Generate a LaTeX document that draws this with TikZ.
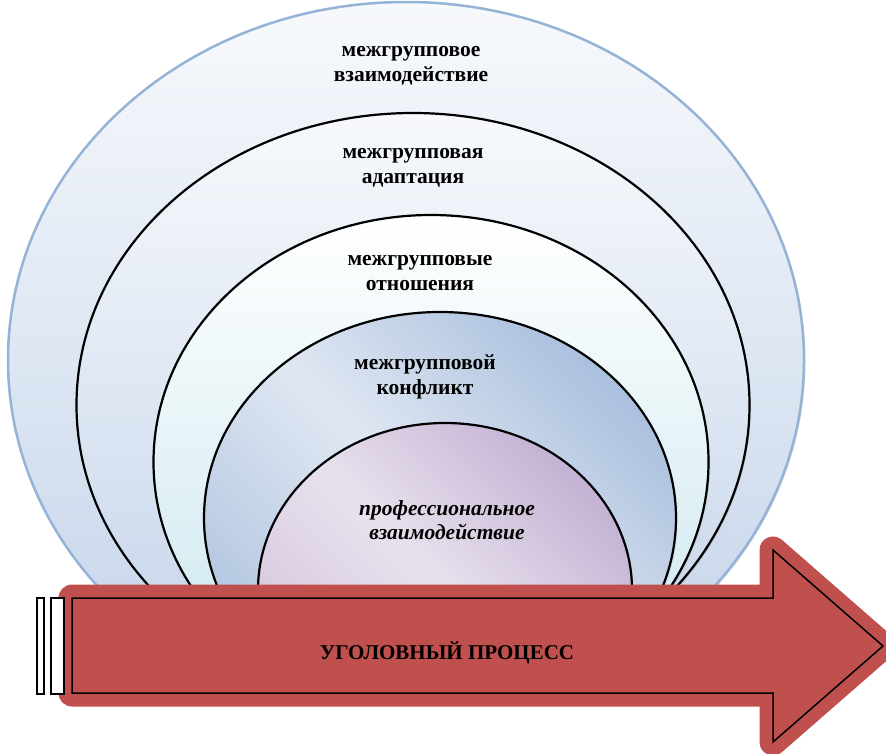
\documentclass[tikz,border=0pt]{standalone}
\usepackage{fontspec}
\setmainfont{Liberation Serif}
\usetikzlibrary{shapes.geometric,shadows}

\definecolor{ringblue}{HTML}{95B3D7}
\definecolor{arrowred}{HTML}{C0504D}
\definecolor{paletop}{RGB}{247,249,252}
\definecolor{palebot}{RGB}{195,211,233}
\definecolor{cyanbot}{RGB}{201,230,238}
\definecolor{bluedark}{RGB}{170,192,222}
\definecolor{bluelight}{RGB}{224,231,242}
\definecolor{bluelow}{RGB}{178,198,225}
\definecolor{lilacdark}{RGB}{195,178,211}
\definecolor{lilaclight}{RGB}{232,225,237}
\definecolor{lilaclow}{RGB}{211,197,221}

\begin{document}
\begin{tikzpicture}[x=1pt, y=-1pt,
    ring/.style={ellipse, draw=black, line width=2.2pt, inner sep=0pt,
      drop shadow={shadow xshift=1.5pt, shadow yshift=-1.5pt, opacity=0.25}},
    lbl/.style={align=center, font=\fontsize{21.5}{24.5}\selectfont\bfseries},
    stripe/.style={draw=black, fill=white, line width=1.5pt}]

    \useasboundingbox (0,0) rectangle (886,753);

    \begin{scope}
    \clip (0,0) rectangle (886,650);
    \node[ring, draw=ringblue, line width=2.5pt, top color=paletop, bottom color=palebot, minimum width=796pt, minimum height=716pt] (e1) at (406, 360) {};
    \node[ring, top color=paletop, bottom color=palebot, minimum width=673pt, minimum height=584pt] (e2) at (413, 405) {};
    \node[ring, top color=white, bottom color=cyanbot, minimum width=555pt, minimum height=494pt] (e3) at (431, 462) {};
    \node[ring, top color=bluedark, bottom color=bluelow, middle color=bluelight, shading angle=-45, minimum width=472pt, minimum height=412pt] (e4) at (440, 518) {};
    \node[ring, top color=lilacdark, bottom color=lilaclow, middle color=lilaclight, shading angle=-45, minimum width=374pt, minimum height=334pt] (e5) at (445, 590) {};
    \end{scope}

    \node[lbl] (a) at (411, 66) {межгрупповое\\взаимодействие};
    \node[lbl] (b) at (413, 168) {межгрупповая\\адаптация};
    \node[lbl] (c) at (420, 273) {межгрупповые\\отношения};
    \node[lbl] (d) at (425, 377) {межгрупповой\\конфликт};
    \node[lbl, font=\fontsize{21.5}{24.5}\selectfont\bfseries\itshape] (e) at (447, 520) {профессиональное\\взаимодействие};

    \draw[arrowred, fill=arrowred, line width=27pt, line join=round] (72,598) -- (773,598) -- (773,550) -- (883,646) -- (773,742) -- (773,693) -- (72,693) -- cycle;
    \draw[black, line width=1.5pt] (72,598) -- (773,598) -- (773,550) -- (883,646) -- (773,742) -- (773,693) -- (72,693) -- cycle;
    \draw[stripe] (37,598) rectangle (44,694);
    \draw[stripe] (51,598) rectangle (64,694);

    \node[lbl, font=\fontsize{21}{24}\selectfont\bfseries] (f) at (447, 653) {УГОЛОВНЫЙ ПРОЦЕСС};

\end{tikzpicture}
\end{document}
